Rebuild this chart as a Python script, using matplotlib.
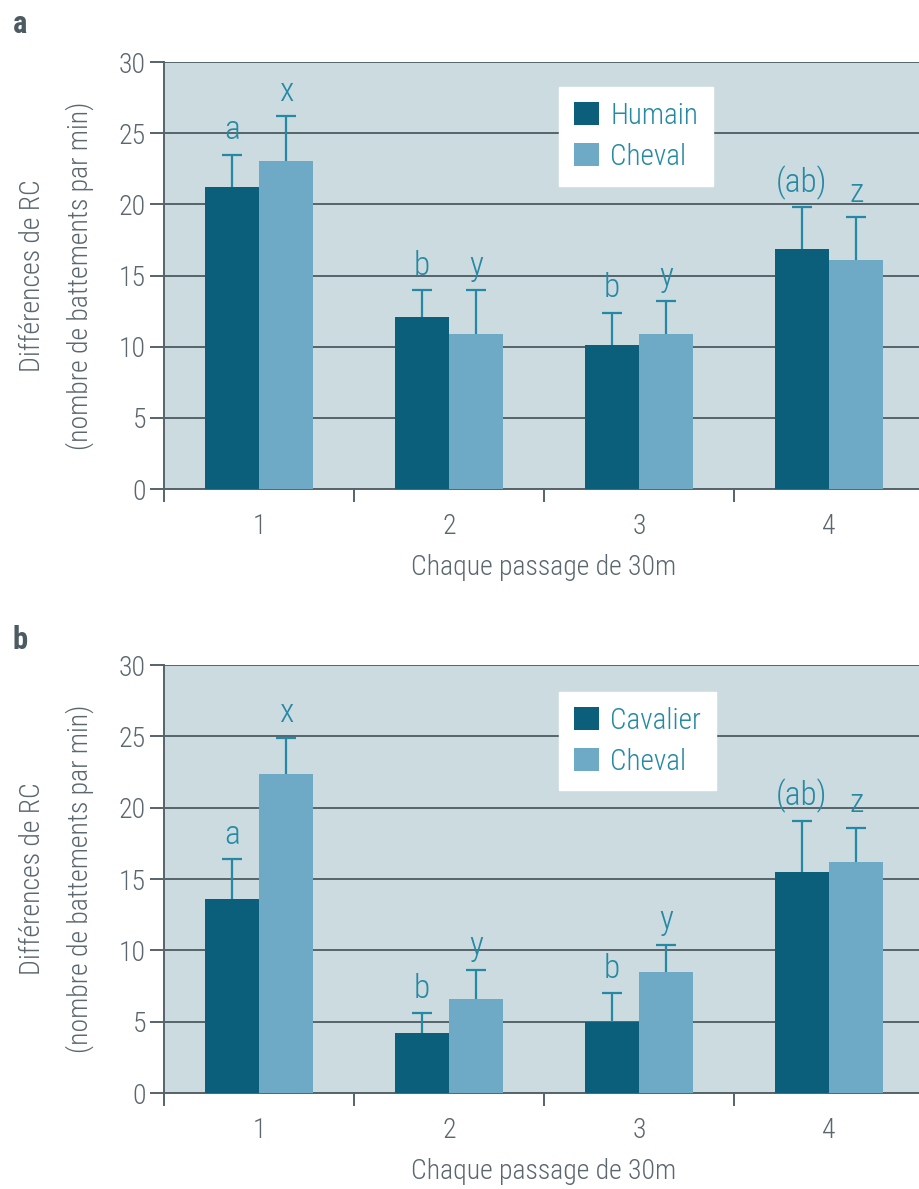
import numpy as np
import matplotlib
matplotlib.use("Agg")
import matplotlib.pyplot as plt
from matplotlib.ticker import FixedLocator, NullFormatter

plt.rcParams['font.family'] = ['Roboto Condensed', 'Roboto', 'DejaVu Sans']

# data
passages = [1, 2, 3, 4]

a_names = ['Humain', 'Cheval']
a_humain = [21.2, 12.1, 10.1, 16.9]
a_humain_err = [2.3, 1.9, 2.3, 2.9]
a_cheval = [23.05, 10.9, 10.9, 16.1]
a_cheval_err = [3.15, 3.1, 2.3, 3.0]

b_names = ['Cavalier', 'Cheval']
b_cavalier = [13.6, 4.2, 5.0, 15.5]
b_cavalier_err = [2.8, 1.4, 2.0, 3.6]
b_cheval = [22.35, 6.6, 8.5, 16.2]
b_cheval_err = [2.55, 2.0, 1.9, 2.4]

letters_1 = ['a', 'b', 'b', '(ab)']
letters_2 = ['x', 'y', 'y', 'z']

# colours
bg = '#cbdbe0'
dark = '#0c5f7a'
light = '#6eaac5'
teal = '#2589a4'
grey = '#5a676e'
gridc = '#55636b'

fig = plt.figure(figsize=(9.19, 11.89), dpi=100)

def panel(rect, v1, e1, v2, e2, names, tag, tag_y, leg_top):
    ax = fig.add_axes(rect)
    ax.set_facecolor(bg)
    x = np.array(passages, dtype=float)
    w = 0.285
    ax.bar(x - w/2, v1, w, color=dark, zorder=3, label=names[0])
    ax.bar(x + w/2, v2, w, color=light, zorder=3, label=names[1])
    # symmetric bars drawn behind, so only the upper half shows
    for xs, v, e in [(x - w/2, v1, e1), (x + w/2, v2, e2)]:
        ax.errorbar(xs, v, yerr=e, fmt='none',
                    ecolor=teal, elinewidth=1.6, capsize=7.5, capthick=1.6, zorder=2.5)
    for xs, v, e, labs in [(x - w/2, v1, e1, letters_1), (x + w/2, v2, e2, letters_2)]:
        for xi, vi, ei, lab in zip(xs, v, e, labs):
            ax.annotate(lab, (xi, vi + ei), xytext=(0, 11), textcoords='offset points',
                        ha='center', va='baseline', fontsize=24, color=teal, fontweight='light')

    ax.set_xlim(0.5, 4.5)
    ax.set_ylim(0, 30)
    ax.set_yticks([0, 5, 10, 15, 20, 25, 30])
    ax.yaxis.grid(True, color=gridc, linewidth=1.4, zorder=0)
    ax.set_axisbelow(True)

    ax.xaxis.set_major_locator(FixedLocator([0.5, 1.5, 2.5, 3.5]))
    ax.xaxis.set_major_formatter(NullFormatter())
    ax.xaxis.set_minor_locator(FixedLocator(passages))
    ax.set_xticklabels([str(p) for p in passages], minor=True)
    ax.tick_params(axis='x', which='major', direction='out', length=9, width=1.4, color=gridc)
    ax.tick_params(axis='x', which='minor', length=0, pad=17, labelsize=20, labelcolor=grey)
    ax.tick_params(axis='y', direction='out', length=10, width=1.4, color=gridc,
                   pad=3, labelsize=20, labelcolor=grey)
    for lab in ax.get_xticklabels(minor=True) + ax.get_yticklabels():
        lab.set_fontweight('light')

    for s in ['top', 'right']:
        ax.spines[s].set_visible(False)
    ax.spines['left'].set_color(gridc)
    ax.spines['left'].set_linewidth(1.4)
    ax.spines['bottom'].set_color(gridc)
    ax.spines['bottom'].set_linewidth(1.4)

    ax.set_ylabel('Différences de RC\n(nombre de battements par min)',
                  fontsize=20, color=grey, labelpad=18, linespacing=1.85, fontweight='light')
    ax.set_xlabel('Chaque passage de 30m', fontsize=20, color=grey, labelpad=10,
                  fontweight='light')

    leg = ax.legend(loc='upper left', bbox_to_anchor=(0.52, leg_top), borderaxespad=0,
                    fontsize=21, frameon=True, fancybox=False, framealpha=1,
                    edgecolor='white', handlelength=0.85, handleheight=0.85,
                    handletextpad=0.4, labelspacing=0.45, borderpad=0.5)
    for t in leg.get_texts():
        t.set_color(teal)
        t.set_fontweight('light')

    fig.text(0.014, tag_y, tag, fontsize=22, fontweight='bold', color='#4c5a61',
             ha='left', va='center')
    return ax

panel([0.1785, 0.5887, 0.827, 0.3591], a_humain, a_humain_err, a_cheval, a_cheval_err,
      a_names, 'a', 1 - 24/1189, 0.941)
panel([0.1785, 0.0807, 0.827, 0.3600], b_cavalier, b_cavalier_err, b_cheval, b_cheval_err,
      b_names, 'b', 1 - 640/1189, 0.937)

fig.savefig('out.png', dpi=100)
